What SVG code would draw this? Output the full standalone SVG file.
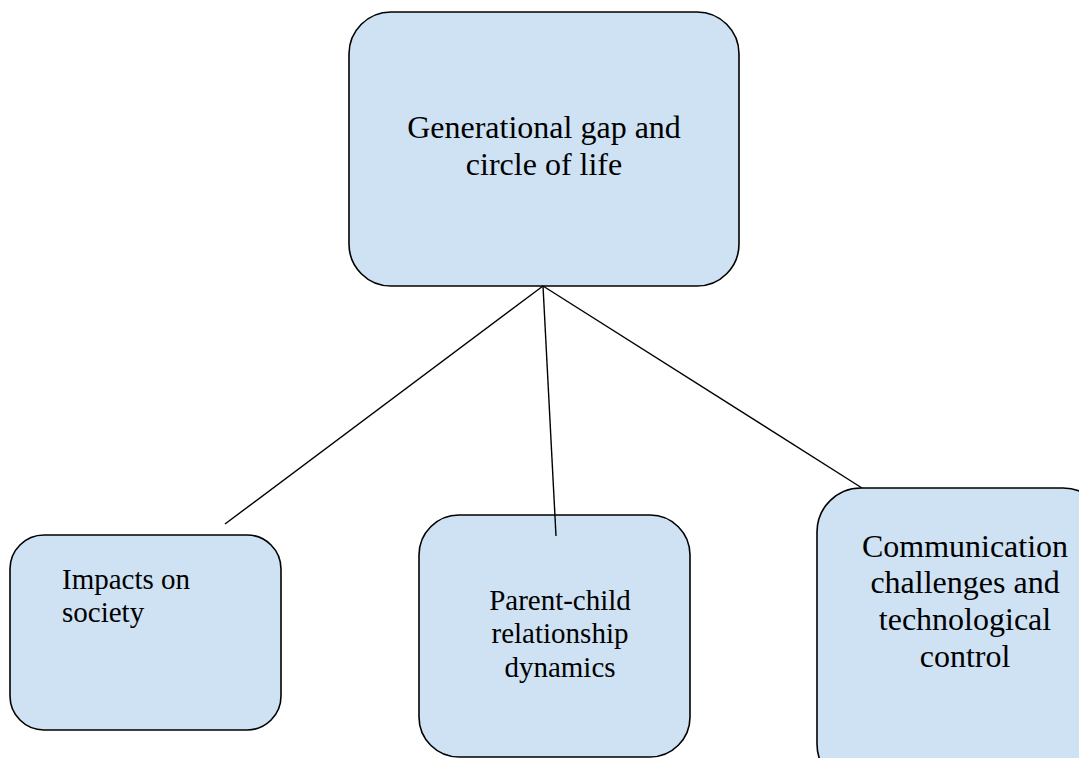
<svg xmlns="http://www.w3.org/2000/svg" width="1079" height="758" viewBox="0 0 1079 758">
  <style>
    .box { fill: #cfe2f3; stroke: #000; stroke-width: 1.6; }
    .link { stroke: #000; stroke-width: 1.4; fill: none; }
    .lbl { font-family: "Liberation Serif", "Times New Roman", serif; fill: #000; }
  </style>
  <rect width="1079" height="758" fill="#fff"/>

  <g id="node-root">
    <rect class="box" x="349" y="12" width="390" height="274" rx="42" ry="42"/>
    <text class="lbl" font-size="32" text-anchor="middle" x="544" y="138">Generational gap and</text>
    <text class="lbl" font-size="32" text-anchor="middle" x="544" y="175">circle of life</text>
  </g>

  <g id="node-society">
    <rect class="box" x="10" y="535" width="271" height="195" rx="34" ry="34"/>
    <text class="lbl" font-size="29" x="62" y="589">Impacts on</text>
    <text class="lbl" font-size="29" x="62" y="622">society</text>
  </g>

  <g id="node-parent-child">
    <rect class="box" x="419" y="515" width="271" height="242" rx="40" ry="40"/>
    <text class="lbl" font-size="29" text-anchor="middle" x="560" y="610">Parent-child</text>
    <text class="lbl" font-size="29" text-anchor="middle" x="560" y="643">relationship</text>
    <text class="lbl" font-size="29" text-anchor="middle" x="560" y="677">dynamics</text>
  </g>

  <g id="node-communication">
    <rect class="box" x="817" y="488" width="290" height="300" rx="44" ry="44"/>
    <text class="lbl" font-size="32" text-anchor="middle" x="965" y="557">Communication</text>
    <text class="lbl" font-size="32" text-anchor="middle" x="965" y="593">challenges and</text>
    <text class="lbl" font-size="32" text-anchor="middle" x="965" y="630">technological</text>
    <text class="lbl" font-size="32" text-anchor="middle" x="965" y="667">control</text>
  </g>

  <!-- connectors are drawn over the boxes so the centre line shows inside its box -->
  <g id="connectors">
    <line class="link" x1="543" y1="286" x2="225" y2="524"/>
    <line class="link" x1="543" y1="286" x2="556" y2="536"/>
    <line class="link" x1="543" y1="286" x2="862" y2="488"/>
  </g>
</svg>
